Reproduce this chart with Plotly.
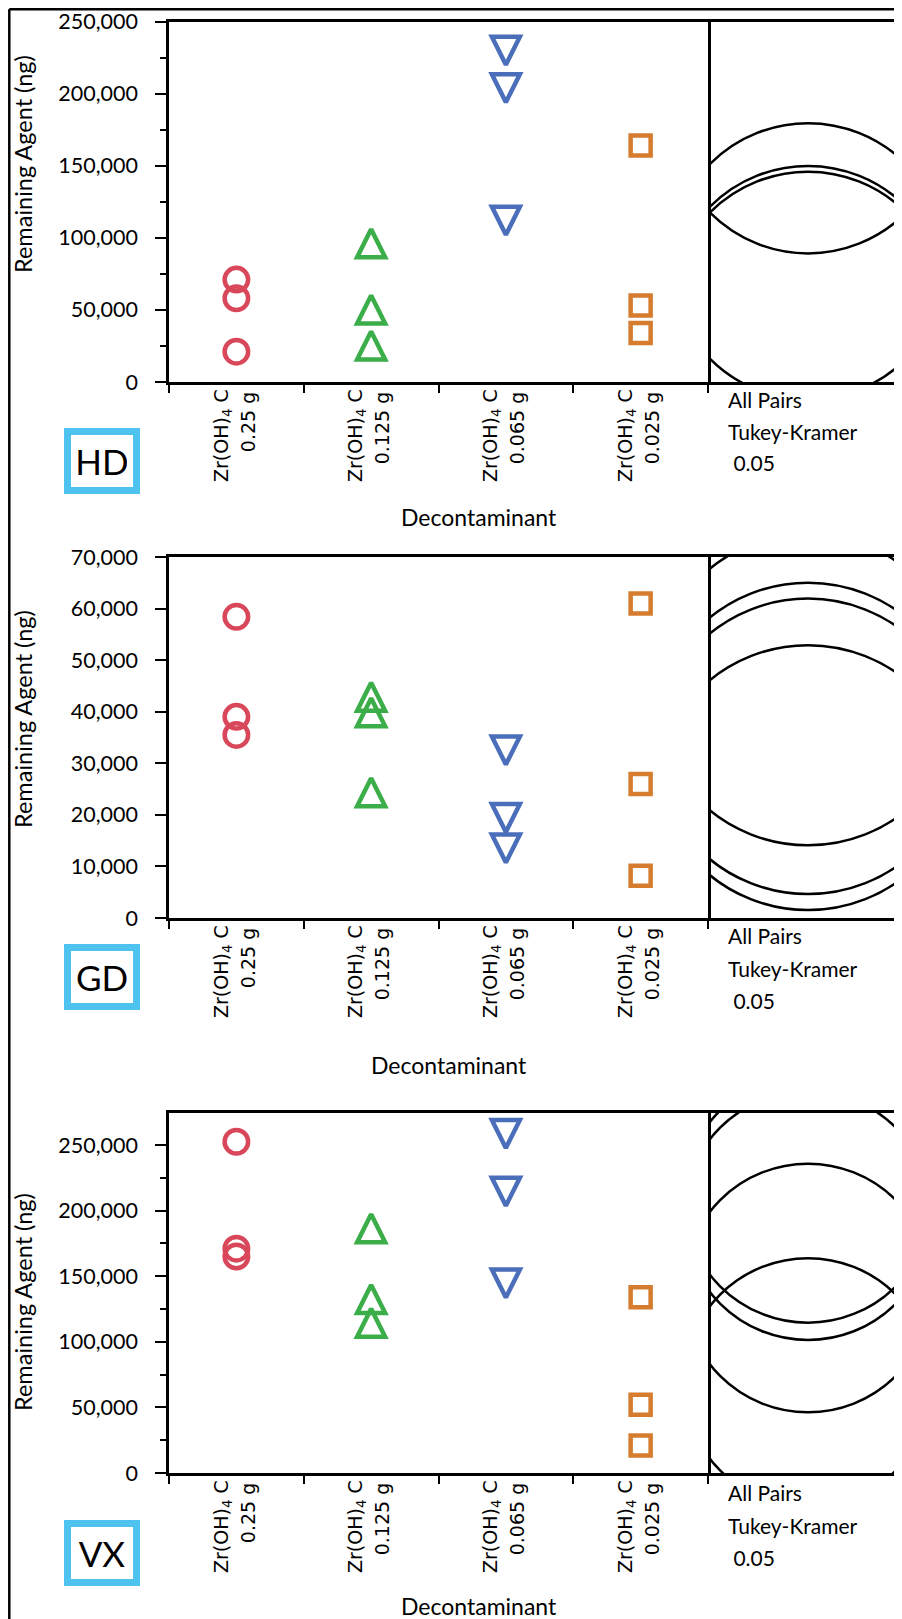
import numpy as np
import plotly.graph_objects as go

# ---------------- data ----------------
categories = ["0.25 g", "0.125 g", "0.065 g", "0.025 g"]          # dose (2nd label line)
compound = "Zr(OH)<sub>4</sub> C"                                  # 1st label line
agents = ["HD", "GD", "VX"]

hd_025 = [71000, 58000, 21000]
hd_0125 = [93000, 47000, 22000]
hd_0065 = [233000, 207000, 115000]
hd_0025 = [164000, 53000, 34000]

gd_025 = [58400, 39000, 35500]
gd_0125 = [42000, 39000, 23500]
gd_0065 = [33400, 20300, 14400]
gd_0025 = [61000, 26000, 8200]

vx_025 = [252500, 171000, 165000]
vx_0125 = [183000, 129000, 111000]
vx_0065 = [262000, 218000, 148000]
vx_0025 = [134000, 52000, 21000]

y_max = [250000, 70000, 274400]
y_dtick = [50000, 10000, 50000]
y_minor = [25000, None, 25000]

comparison_text = ["All Pairs", "Tukey-Kramer", " 0.05"]
x_title = "Decontaminant"
y_title = "Remaining Agent (ng)"
q_crit = 4.529  # studentized range q(0.05; k=4, df=8)

# ---------------- styles / geometry (screen pixels) ----------------
colors = ["#D9485A", "#3BAE49", "#4A6EBA", "#D67C2E"]
box_color = "#4FC3F0"
FONT = "Lato"
TICK_FONT = dict(family="DejaVu Sans", size=19, color="black")

SCREEN_W, SCREEN_H = 902, 1619
OFF = 8                      # page body margin
W, H = SCREEN_W - OFF, SCREEN_H - OFF

panel_top = [21.5, 557, 1113]
panel_bottom = [382, 918, 1473]
x_left, x_split, circle_cx = 169, 708, 808
title_y = [164, 719, 1302]
deco_xy = [(479, 517), (449, 1065), (479, 1606)]
box_y = [461, 977, 1553]
cmp_y = [[400, 432, 463], [936, 968, 1000], [1492, 1525, 1557]]

panels = [[hd_025, hd_0125, hd_0065, hd_0025],
          [gd_025, gd_0125, gd_0065, gd_0025],
          [vx_025, vx_0125, vx_0065, vx_0025]]


def py(p):
    return 1 - (p - OFF) / H


def px(p):
    return (p - OFF) / W


def aref(prefix, idx):
    return prefix if idx == 1 else f"{prefix}{idx}"


def akey(prefix, idx):
    return f"{prefix}axis" if idx == 1 else f"{prefix}axis{idx}"


fig = go.Figure()
layout = dict(width=W, height=H, margin=dict(l=0, r=0, t=0, b=0, pad=0),
              paper_bgcolor="white", plot_bgcolor="white", showlegend=False,
              font=dict(family=FONT, size=20, color="black"))
shapes, annotations = [], []

for i, groups in enumerate(panels):
    xs_id, xc_id, xo_id, y_id = 2 * i + 1, 2 * i + 2, 7 + i, i + 1
    xs_ref, xc_ref, y_ref = aref("x", xs_id), aref("x", xc_id), aref("y", y_id)
    ydom = [py(panel_bottom[i]), py(panel_top[i])]

    for g, vals in enumerate(groups):
        size = [23.5, 28, 28, 20][g]
        marker = dict(color=colors[g], size=size,
                      line=dict(color=colors[g], width=4.5))
        if g == 0:
            marker["symbol"] = "circle-open"
        elif g == 1:
            marker.update(symbol="arrow-down-open", angle=180, standoff=2 * size / 3)
        elif g == 2:
            marker.update(symbol="arrow-down-open", angle=0, standoff=2 * size / 3)
        else:
            marker["symbol"] = "square-open"
        fig.add_trace(go.Scatter(x=[categories[g]] * len(vals), y=vals, mode="markers",
                                 marker=marker, xaxis=xs_ref, yaxis=y_ref,
                                 hoverinfo="skip", cliponaxis=False))

    # invisible traces so the comparison-circle subplot and label overlay axis exist
    fig.add_trace(go.Scatter(x=[0], y=[0], mode="markers", marker=dict(opacity=0),
                             xaxis=xc_ref, yaxis=y_ref, hoverinfo="skip"))
    fig.add_trace(go.Scatter(x=[categories[0]], y=[0], mode="markers", marker=dict(opacity=0),
                             xaxis=aref("x", xo_id), yaxis=y_ref, hoverinfo="skip"))

    # Tukey-Kramer comparison circles: center = group mean, radius from pooled error
    means = [np.mean(v) for v in groups]
    sse = sum(np.sum((np.array(v) - np.mean(v)) ** 2) for v in groups)
    n = len(groups[0])
    dfe = sum(len(v) for v in groups) - len(groups)
    mse = sse / dfe
    radius = q_crit / np.sqrt(2) * np.sqrt(mse / n)
    k = y_max[i] / (panel_bottom[i] - panel_top[i])   # data units per pixel
    for m in means:
        shapes.append(dict(type="circle", xref=xc_ref, yref=y_ref,
                           x0=-radius, x1=radius, y0=m - radius, y1=m + radius,
                           line=dict(color="black", width=2.5), layer="above"))

    # main categorical axis: boundary ticks + first label line
    layout[akey("x", xs_id)] = dict(
        domain=[px(x_left), px(x_split)], anchor=y_ref, type="category",
        categoryorder="array", categoryarray=categories, range=[-0.5, 3.5],
        tickmode="array", tickvals=categories, ticktext=[compound] * len(categories),
        showline=True, linecolor="black", linewidth=2.5, mirror=True,
        ticks="outside", tickson="boundaries", ticklen=8, tickwidth=2, tickcolor="black",
        tickangle=-90, tickfont=TICK_FONT, ticklabelstandoff=-3, ticklabelshift=-15,
        automargin=False, showgrid=False, zeroline=False, fixedrange=True)
    # overlay axis: second label line (dose)
    layout[akey("x", xo_id)] = dict(
        domain=[px(x_left), px(x_split)], anchor=y_ref, overlaying=xs_ref, type="category",
        categoryorder="array", categoryarray=categories, range=[-0.5, 3.5],
        side="bottom", showline=False, ticks="", tickangle=-90, tickfont=TICK_FONT,
        ticklabelstandoff=5, ticklabelshift=12,
        automargin=False, showgrid=False, zeroline=False, fixedrange=True)
    layout[akey("x", xc_id)] = dict(
        domain=[px(x_split), 1], anchor=y_ref,
        range=[-(circle_cx - x_split) * k, (SCREEN_W - circle_cx) * k],
        showline=True, linecolor="black", linewidth=2.5, mirror=True, automargin=False,
        showticklabels=False, ticks="", showgrid=False, zeroline=False, fixedrange=True)
    yax = dict(domain=ydom, anchor=xs_ref, range=[0, y_max[i]],
               showline=True, linecolor="black", linewidth=2.5, mirror=True,
               ticks="outside", ticklen=11, tickwidth=2, tickcolor="black",
               dtick=y_dtick[i], tick0=0, tickformat=",",
               tickfont=dict(family=FONT, size=21.5, color="black"),
               ticklabelstandoff=13, automargin=False,
               showgrid=False, zeroline=False, fixedrange=True)
    if y_minor[i]:
        yax["minor"] = dict(dtick=y_minor[i], tick0=0, ticks="outside", ticklen=6,
                            tickwidth=2, tickcolor="black", showgrid=False)
    layout[akey("y", y_id)] = yax

    # texts
    annotations.append(dict(text=y_title, xref="paper", yref="paper", x=px(23), y=py(title_y[i]),
                            textangle=-90, showarrow=False, xanchor="center", yanchor="middle",
                            font=dict(family=FONT, size=23.5, color="black")))
    annotations.append(dict(text=x_title, xref="paper", yref="paper",
                            x=px(deco_xy[i][0]), y=py(deco_xy[i][1]),
                            showarrow=False, xanchor="center", yanchor="middle",
                            font=dict(family=FONT, size=23, color="black")))
    for t, yy in zip(comparison_text, cmp_y[i]):
        annotations.append(dict(text=t, xref="paper", yref="paper", x=px(726), y=py(yy),
                                showarrow=False, xanchor="left", yanchor="middle",
                                font=dict(family=FONT, size=21, color="black")))
    annotations.append(dict(text=agents[i], xref="paper", yref="paper", x=px(102), y=py(box_y[i]),
                            showarrow=False, xanchor="center", yanchor="middle",
                            width=50, height=40, borderpad=6, borderwidth=7,
                            bordercolor=box_color, bgcolor="white",
                            font=dict(family=FONT, size=35, color="black")))

# outer frame
shapes.append(dict(type="line", xref="paper", yref="paper", x0=1.3 / W, x1=1.3 / W,
                   y0=0, y1=1 - 1.3 / H, line=dict(color="black", width=2.5)))
shapes.append(dict(type="line", xref="paper", yref="paper", x0=1.3 / W, x1=1,
                   y0=1 - 1.3 / H, y1=1 - 1.3 / H, line=dict(color="black", width=2.5)))

layout["shapes"] = shapes
layout["annotations"] = annotations
fig.update_layout(**layout)
fig.write_html("out.html")
